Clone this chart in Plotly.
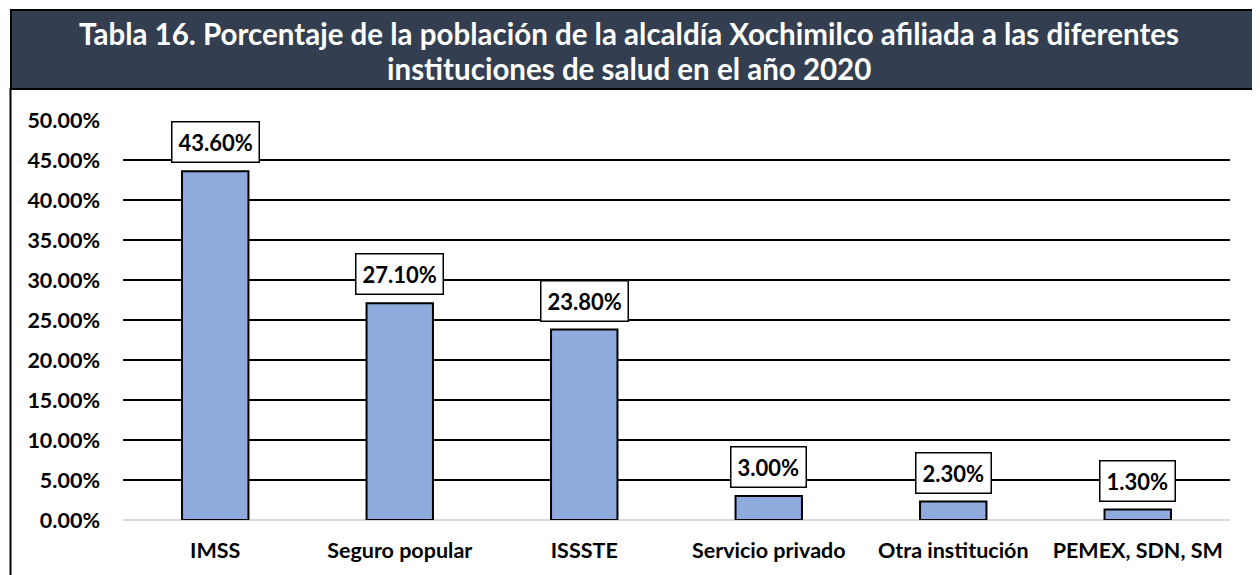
import plotly.graph_objects as go

categories = ["IMSS", "Seguro popular", "ISSSTE", "Servicio privado", "Otra institución", "PEMEX, SDN, SM"]
values = [43.6, 27.1, 23.8, 3.0, 2.3, 1.3]
tick_vals = [0, 5, 10, 15, 20, 25, 30, 35, 40, 45, 50]
tick_text = [f"{v:.2f}%" for v in tick_vals]
title_lines = ["Tabla 16. Porcentaje de la población de la alcaldía Xochimilco afiliada a las diferentes",
               "instituciones de salud en el año 2020"]

# page body has an 8px margin; work in screen coordinates and shift
OFF = 8
W, H = 1260, 575
L, R, T, B = 123 - OFF, W - (1230 - OFF), 120 - OFF, H - (520 - OFF)
pw, ph = W - L - R, H - T - B

def px(x):
    return (x - OFF - L) / pw

def py(y):
    return (H - B - (y - OFF)) / ph

FONT = "Lato"

fig = go.Figure()
fig.add_trace(go.Bar(
    x=categories, y=values,
    marker=dict(color="#8FAADC", line=dict(color="black", width=2)),
    width=0.36,
    hoverinfo="skip",
))

for c, v in zip(categories, values):
    fig.add_annotation(
        x=c, y=v, xref="x", yref="y",
        text=f"{v:.2f}%", showarrow=False,
        yanchor="bottom", yshift=8,
        font=dict(family=FONT, size=22, color="black", weight="bold"),
        bgcolor="white", bordercolor="black", borderwidth=1.5, borderpad=6,
    )

# frame boxes
fig.add_shape(type="rect", xref="paper", yref="paper",
              x0=px(10.5), x1=px(1257), y0=py(600), y1=py(89),
              line=dict(color="black", width=2), fillcolor="rgba(0,0,0,0)", layer="below")
fig.add_shape(type="rect", xref="paper", yref="paper",
              x0=px(11), x1=px(1262), y0=py(89), y1=py(10),
              line=dict(color="black", width=2), fillcolor="#333F50", layer="below")

for line, yc in zip(title_lines, [34, 68]):
    fig.add_annotation(
        x=px(629), y=py(yc), xref="paper", yref="paper",
        text=line, showarrow=False, xanchor="center", yanchor="middle",
        font=dict(family=FONT, size=29.5, color="white", weight="bold"),
    )

fig.update_layout(
    width=W, height=H,
    margin=dict(l=L, r=R, t=T, b=B, autoexpand=False),
    paper_bgcolor="white", plot_bgcolor="white",
    showlegend=False,
    bargap=0.64,
    xaxis=dict(
        showgrid=False, showline=False, ticks="",
        tickfont=dict(family=FONT, size=21.5, color="black", weight="bold"),
        ticklabelstandoff=15,
    ),
    yaxis=dict(
        range=[0, 50], tickvals=tick_vals, ticktext=tick_text,
        showgrid=True, gridcolor="black", gridwidth=2,
        zeroline=True, zerolinecolor="#D9D9D9", zerolinewidth=2,
        showline=False, ticks="",
        tickfont=dict(family=FONT, size=21.5, color="black", weight="bold"),
        ticklabelstandoff=22,
    ),
)

fig.write_html("out.html")
